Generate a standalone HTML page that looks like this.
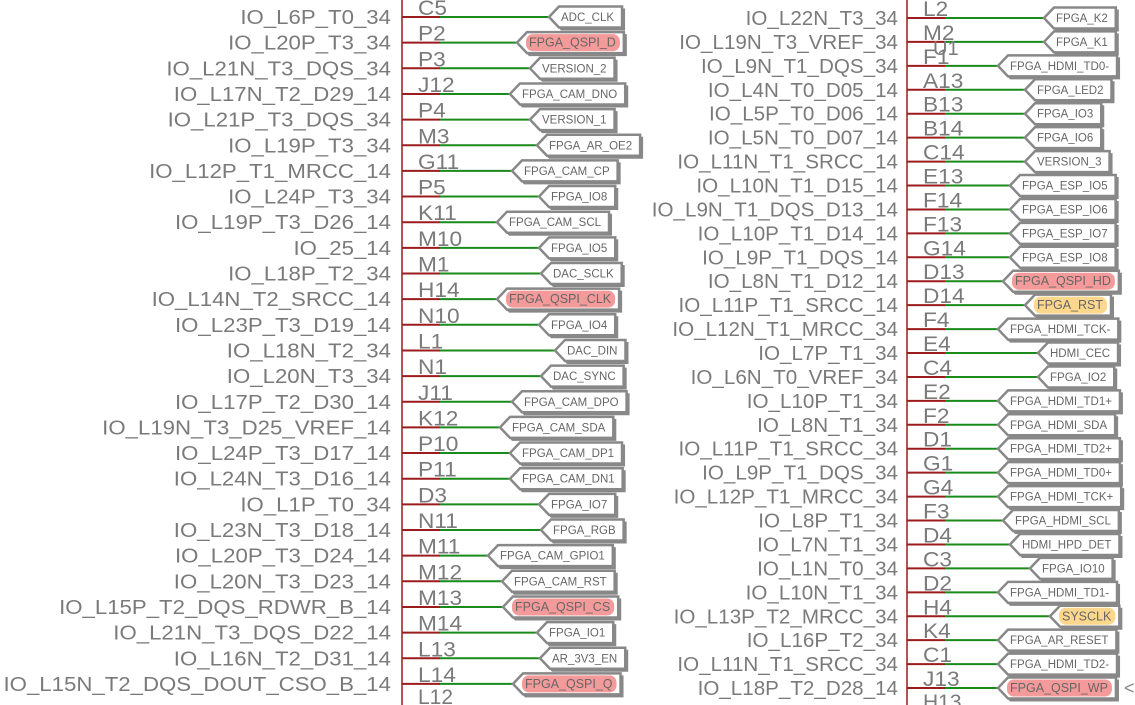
<!DOCTYPE html>
<html><head><meta charset="utf-8"><style>
html,body{margin:0;padding:0;background:#fff;}
svg{display:block;font-family:"Liberation Sans",sans-serif;}
</style></head><body>
<svg id="s" width="1135" height="705" viewBox="0 0 1135 705"></svg>
<script>
const leftNames=["IO_L6P_T0_34","IO_L20P_T3_34","IO_L21N_T3_DQS_34","IO_L17N_T2_D29_14","IO_L21P_T3_DQS_34","IO_L19P_T3_34","IO_L12P_T1_MRCC_14","IO_L24P_T3_34","IO_L19P_T3_D26_14","IO_25_14","IO_L18P_T2_34","IO_L14N_T2_SRCC_14","IO_L23P_T3_D19_14","IO_L18N_T2_34","IO_L20N_T3_34","IO_L17P_T2_D30_14","IO_L19N_T3_D25_VREF_14","IO_L24P_T3_D17_14","IO_L24N_T3_D16_14","IO_L1P_T0_34","IO_L23N_T3_D18_14","IO_L20P_T3_D24_14","IO_L20N_T3_D23_14","IO_L15P_T2_DQS_RDWR_B_14","IO_L21N_T3_DQS_D22_14","IO_L16N_T2_D31_14","IO_L15N_T2_DQS_DOUT_CSO_B_14"];
const leftPins=["C5","P2","P3","J12","P4","M3","G11","P5","K11","M10","M1","H14","N10","L1","N1","J11","K12","P10","P11","D3","N11","M11","M12","M13","M14","L13","L14"];
const leftNets=["ADC_CLK","FPGA_QSPI_D","VERSION_2","FPGA_CAM_DNO","VERSION_1","FPGA_AR_OE2","FPGA_CAM_CP","FPGA_IO8","FPGA_CAM_SCL","FPGA_IO5","DAC_SCLK","FPGA_QSPI_CLK","FPGA_IO4","DAC_DIN","DAC_SYNC","FPGA_CAM_DPO","FPGA_CAM_SDA","FPGA_CAM_DP1","FPGA_CAM_DN1","FPGA_IO7","FPGA_RGB","FPGA_CAM_GPIO1","FPGA_CAM_RST","FPGA_QSPI_CS","FPGA_IO1","AR_3V3_EN","FPGA_QSPI_Q"];
const leftTips=[549,517,530,510,530,537,512,539,497,539,541,497,539,555,541,512,500,510,510,539,541,488,502,503,537,540,513];
const leftHi=["","p","","","","","","","","","","p","","","","","","","","","","","","p","","","p"];
const rightNames=["IO_L22N_T3_34","IO_L19N_T3_VREF_34","IO_L9N_T1_DQS_34","IO_L4N_T0_D05_14","IO_L5P_T0_D06_14","IO_L5N_T0_D07_14","IO_L11N_T1_SRCC_14","IO_L10N_T1_D15_14","IO_L9N_T1_DQS_D13_14","IO_L10P_T1_D14_14","IO_L9P_T1_DQS_14","IO_L8N_T1_D12_14","IO_L11P_T1_SRCC_14","IO_L12N_T1_MRCC_34","IO_L7P_T1_34","IO_L6N_T0_VREF_34","IO_L10P_T1_34","IO_L8N_T1_34","IO_L11P_T1_SRCC_34","IO_L9P_T1_DQS_34","IO_L12P_T1_MRCC_34","IO_L8P_T1_34","IO_L7N_T1_34","IO_L1N_T0_34","IO_L10N_T1_34","IO_L13P_T2_MRCC_34","IO_L16P_T2_34","IO_L11N_T1_SRCC_34","IO_L18P_T2_D28_14"];
const rightPins=["L2","M2","F1","A13","B13","B14","C14","E13","F14","F13","G14","D13","D14","F4","E4","C4","E2","F2","D1","G1","G4","F3","D4","C3","D2","H4","K4","C1","J13"];
const rightNets=["FPGA_K2","FPGA_K1","FPGA_HDMI_TD0-","FPGA_LED2","FPGA_IO3","FPGA_IO6","VERSION_3","FPGA_ESP_IO5","FPGA_ESP_IO6","FPGA_ESP_IO7","FPGA_ESP_IO8","FPGA_QSPI_HD","FPGA_RST","FPGA_HDMI_TCK-","HDMI_CEC","FPGA_IO2","FPGA_HDMI_TD1+","FPGA_HDMI_SDA","FPGA_HDMI_TD2+","FPGA_HDMI_TD0+","FPGA_HDMI_TCK+","FPGA_HDMI_SCL","HDMI_HPD_DET","FPGA_IO10","FPGA_HDMI_TD1-","SYSCLK","FPGA_AR_RESET","FPGA_HDMI_TD2-","FPGA_QSPI_WP"];
const rightTips=[1044,1044,998,1025,1025,1025,1025,1010,1010,1010,1010,1003,1025,998,1038,1038,998,998,998,998,998,1003,1010,1030,998,1050,998,998,998];
const rightHi=["","","","","","","","","","","","p","y","","","","","","","","","","","","","y","","","p"];

const NS="http://www.w3.org/2000/svg";
const svg=document.getElementById('s');
function mk(tag,attrs,parent){const e=document.createElementNS(NS,tag);for(const k in attrs)e.setAttribute(k,attrs[k]);(parent||svg).appendChild(e);return e;}
function stretch(t,f){const L=t.getComputedTextLength();t.setAttribute('textLength',(L*f).toFixed(1));t.setAttribute('lengthAdjust','spacingAndGlyphs');}

function column(names,pins,nets,tips,hi,opt){
  const n=names.length;
  const bar=mk('line',{x1:opt.bx,y1:0,x2:opt.bx,y2:705,stroke:'#9b1c1c','stroke-width':1.5});
  
  
  for(let i=0;i<n;i++){
    const y=opt.y0+i*opt.dy;
    const g=mk('g',{});
    
    
    const t=mk('text',{x:opt.tx,y:y+7,'text-anchor':'end','font-size':20,fill:'#7a7a7a'},g);
    t.textContent=names[i];
    
    
    stretch(t,opt.sf);
    const p=mk('text',{x:opt.bx+16,y:y-2,'font-size':21,fill:'#7a7a7a'},g);
    p.textContent=pins[i];
    
    
    stretch(p,1.08);
    mk('line',{x1:opt.bx,y1:y,x2:opt.bx+38,y2:y,stroke:'#9b1c1c','stroke-width':2},g);
    const tip=tips[i];
    mk('line',{x1:opt.bx+38,y1:y,x2:tip,y2:y,stroke:'#1a8a1a','stroke-width':2},g);
    const lg=mk('g',{},g);
    
    
    const fs=hi[i]?12.5:11.5;
    const lt=mk('text',{x:tip+12,y:y+4,'font-size':fs,fill:'#666'},lg);
    lt.textContent=nets[i];
    const w=lt.getComputedTextLength();
    const r=tip+12+w+8;
    const h=10.5;
    mk('polygon',{points:`${tip+2},${y+2} ${tip+12},${y-h+2} ${r+3},${y-h+2} ${r+3},${y+h+3} ${tip+12},${y+h+3}`,fill:'#888'},lg);
    mk('polygon',{points:`${tip},${y} ${tip+10},${y-h} ${r},${y-h} ${r},${y+h} ${tip+10},${y+h}`,fill:'#fff',stroke:'#888','stroke-width':2.5},lg);
    if(hi[i]){
      mk('rect',{x:tip+9,y:y-8.5,width:w+7,height:17,rx:7,fill:hi[i]=='p'?'#f59a9a':'#fcd78c'},lg);
    }
    lg.appendChild(lt);
  }
}
column(leftNames,leftPins,leftNets,leftTips,leftHi,{side:'left',bx:402,tx:391,y0:17,dy:25.65,sf:1.11});
column(rightNames,rightPins,rightNets,rightTips,rightHi,{side:'right',bx:907,tx:898,y0:18,dy:23.93,sf:1.03});
let e=mk('text',{x:418,y:704,'font-size':21,fill:'#7a7a7a'});e.textContent='L12';

e=mk('text',{x:923,y:709,'font-size':21,fill:'#7a7a7a'});e.textContent='H13';

e=mk('text',{x:933,y:55,'font-size':20,fill:'#7a7a7a'});e.textContent='U1';

e=mk('text',{x:1124,y:694,'font-size':18,fill:'#888'});e.textContent='<';

</script>
</body></html>
